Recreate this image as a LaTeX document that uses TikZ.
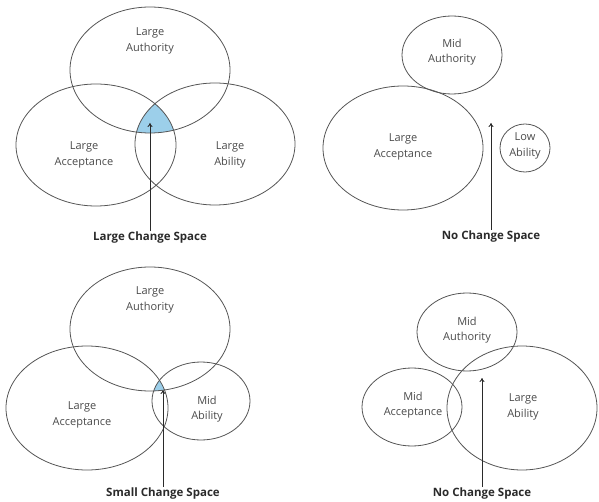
\documentclass[tikz,border=0pt]{standalone}
\usepackage{fontspec}
\setmainfont{Open Sans}
\usetikzlibrary{arrows.meta}
\definecolor{ringgray}{HTML}{555555}
\definecolor{labelgray}{HTML}{4A4A4A}
\definecolor{captiondark}{HTML}{2A2A2A}
\definecolor{overlapblue}{HTML}{9CCFEA}
\tikzset{
  ring/.style={draw=ringgray, line width=0.8pt},
  tag/.style={text=labelgray, align=center, font=\fontsize{11}{15.5}\selectfont, inner sep=0pt},
  caption/.style={text=captiondark, font=\bfseries\fontsize{11.5}{13}\selectfont, inner sep=1pt},
  pointer/.style={draw=captiondark, line width=0.9pt, -{To[length=4pt,width=5pt]}}
}
\begin{document}
\begin{tikzpicture}[x=1pt, y=-1pt]
\useasboundingbox (0,0) rectangle (599,502);

% ---------- panel 1: three large sets ----------
\begin{scope}
  \clip (150,70) ellipse [x radius=80pt, y radius=63pt];
  \clip (96,145) ellipse [x radius=80pt, y radius=61pt];
  \fill[overlapblue] (215,144) ellipse [x radius=80pt, y radius=61pt];
\end{scope}
\draw[ring] (150,70) ellipse [x radius=80pt, y radius=63pt];
\draw[ring] (96,145) ellipse [x radius=80pt, y radius=61pt];
\draw[ring] (215,144) ellipse [x radius=80pt, y radius=61pt];
\node[tag] (auth1) at (150,41) {Large\\Authority};
\node[tag] (acc1) at (84,155) {Large\\Acceptance};
\node[tag] (abil1) at (230,155) {Large\\Ability};
\node[caption] (cap1) at (150,238) {Large Change Space};
\coordinate (tip1) at (150,123);
\draw[pointer] (cap1.north) -- (tip1);

% ---------- panel 2: disjoint sets ----------
\draw[ring] (452,55) ellipse [x radius=50pt, y radius=39pt];
\draw[ring] (403,148) ellipse [x radius=80pt, y radius=62pt];
\draw[ring] (525,148) ellipse [x radius=25pt, y radius=24pt];
\node[tag] (auth2) at (452,52) {Mid\\Authority};
\node[tag] (acc2) at (403,147) {Large\\Acceptance};
\node[tag] (abil2) at (525,146) {Low\\Ability};
\node[caption] (cap2) at (491,237) {No Change Space};
\coordinate (tip2) at (491,123);
\draw[pointer] (cap2.north) -- (tip2);

% ---------- panel 3: small shared region ----------
\begin{scope}
  \clip (150,329) ellipse [x radius=80pt, y radius=62pt];
  \clip (87,408) ellipse [x radius=81pt, y radius=62pt];
  \fill[overlapblue] (201,401) ellipse [x radius=49pt, y radius=39pt];
\end{scope}
\draw[ring] (150,329) ellipse [x radius=80pt, y radius=62pt];
\draw[ring] (87,408) ellipse [x radius=81pt, y radius=62pt];
\draw[ring] (201,401) ellipse [x radius=49pt, y radius=39pt];
\node[tag] (auth3) at (150,300) {Large\\Authority};
\node[tag] (acc3) at (82,415) {Large\\Acceptance};
\node[tag] (abil3) at (207,409) {Mid\\Ability};
\node[caption] (cap3) at (163,494) {Small Change Space};
\coordinate (tip3) at (163,390);
\draw[pointer] (cap3.north) -- (tip3);

% ---------- panel 4: no common region ----------
\draw[ring] (467,332) ellipse [x radius=50pt, y radius=39pt];
\draw[ring] (412,407) ellipse [x radius=50pt, y radius=39pt];
\draw[ring] (522,408) ellipse [x radius=75pt, y radius=62pt];
\node[tag] (auth4) at (467,330) {Mid\\Authority};
\node[tag] (acc4) at (413,405) {Mid\\Acceptance};
\node[tag] (abil4) at (523,407) {Large\\Ability};
\node[caption] (cap4) at (482,494) {No Change Space};
\coordinate (tip4) at (482,378);
\draw[pointer] (cap4.north) -- (tip4);
\end{tikzpicture}
\end{document}
